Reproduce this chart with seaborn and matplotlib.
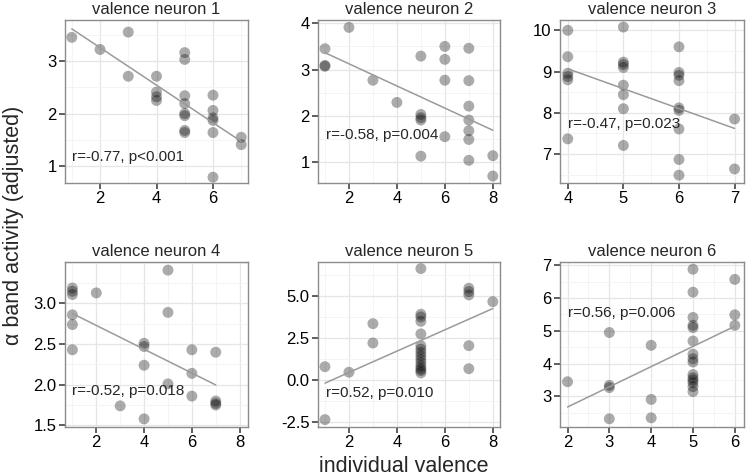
import matplotlib
matplotlib.use("Agg")
import matplotlib.pyplot as plt
from matplotlib.ticker import FixedLocator, AutoMinorLocator
import seaborn as sns
import pandas as pd

# --- DATA ---
neuron1_x = [1, 2, 3, 3, 4, 4, 4, 4, 5, 5, 5, 5, 5, 5, 5, 5, 6, 6, 6, 6, 6, 6, 7, 7]
neuron1_y = [3.45, 3.22, 3.55, 2.71, 2.71, 2.41, 2.32, 2.25, 3.16, 3.03, 2.34, 2.19,
             2.0, 1.96, 1.68, 1.64, 2.35, 2.06, 1.92, 1.87, 1.64, 0.79, 1.55, 1.41]

neuron2_x = [1, 1, 1, 2, 3, 4, 5, 5, 5, 5, 5, 6, 6, 6, 6, 7, 7, 7, 7, 7, 7, 7, 8, 8]
neuron2_y = [3.45, 3.09, 3.07, 3.91, 2.77, 2.29, 3.29, 2.03, 1.96, 1.91, 1.13, 3.50,
             3.22, 2.77, 1.55, 3.46, 2.76, 2.21, 1.91, 1.68, 1.49, 1.04, 1.14, 0.70]

neuron3_x = [4, 4, 4, 4, 4, 4, 5, 5, 5, 5, 5, 5, 5, 5, 6, 6, 6, 6, 6, 6, 6, 6, 6, 7, 7]
neuron3_y = [10.0, 9.36, 8.96, 8.88, 8.80, 7.37, 10.08, 9.23, 9.17, 9.10, 8.67, 8.44,
             8.10, 7.21, 9.60, 8.98, 8.91, 8.78, 8.12, 8.06, 7.61, 6.87, 6.49, 7.85, 6.64]

neuron4_x = [1, 1, 1, 1, 1, 1, 2, 3, 4, 4, 4, 4, 5, 5, 5, 6, 6, 6, 7, 7, 7, 7]
neuron4_y = [3.19, 3.15, 3.11, 2.86, 2.74, 2.43, 3.13, 1.74, 2.51, 2.47, 2.24, 1.58,
             3.41, 2.89, 2.01, 2.43, 2.14, 1.86, 2.40, 1.80, 1.77, 1.75]

neuron5_x = [1, 1, 2, 3, 3, 5, 5, 5, 5, 5, 5, 5, 5, 5, 5, 5, 5, 5, 5, 5,
             7, 7, 7, 7, 7, 8]
neuron5_y = [0.79, -2.36, 0.46, 3.35, 2.20, 6.63, 3.91, 3.75, 3.49, 2.74, 2.04, 1.83,
             1.63, 1.43, 1.23, 1.03, 0.83, 0.67, 0.56, 0.42, 5.46, 5.26, 5.06, 2.04,
             0.67, 4.66]

neuron6_x = [2, 3, 3, 3, 3, 4, 4, 4, 5, 5, 5, 5, 5, 5, 5, 5, 5, 5, 5, 5, 5, 5, 5,
             6, 6, 6]
neuron6_y = [3.45, 4.95, 3.34, 3.27, 2.32, 4.56, 2.91, 2.35, 6.88, 6.18, 5.41, 5.17,
             5.10, 4.69, 4.29, 4.15, 4.05, 3.67, 3.57, 3.50, 3.42, 3.30, 3.15,
             6.57, 5.49, 5.17]

stat_labels = ["r=-0.77, p<0.001", "r=-0.58, p=0.004", "r=-0.47, p=0.023",
               "r=-0.52, p=0.018", "r=0.52, p=0.010", "r=0.56, p=0.006"]

# --- LAYOUT / STYLE ---
sns.set_theme(style="white")
plt.rcParams['font.family'] = ['Liberation Sans', 'DejaVu Sans']

panels = [
    # x, y, x-limits, y-limits, x-ticks, y-ticks, y tick format, label pos
    (neuron1_x, neuron1_y, (0.76, 7.24), (0.68, 3.78), [2, 4, 6], [1, 2, 3], "{:.0f}", (1.0, 1.17)),
    (neuron2_x, neuron2_y, (0.71, 8.3), (0.55, 4.07), [2, 4, 6, 8], [1, 2, 3, 4], "{:.0f}", (1.03, 1.58)),
    (neuron3_x, neuron3_y, (3.86, 7.17), (6.30, 10.25), [4, 5, 6, 7], [7, 8, 9, 10], "{:.0f}", (4.0, 7.72)),
    (neuron4_x, neuron4_y, (0.69, 8.35), (1.48, 3.51), [2, 4, 6, 8], [1.5, 2.0, 2.5, 3.0], "{:.1f}", (1.0, 1.92)),
    (neuron5_x, neuron5_y, (0.71, 8.3), (-2.8, 7.02), [2, 4, 6, 8], [-2.5, 0.0, 2.5, 5.0], "{:.1f}", (1.03, -0.75)),
    (neuron6_x, neuron6_y, (1.82, 6.22), (2.07, 7.1), [2, 3, 4, 5, 6], [3, 4, 5, 6, 7], "{:.0f}", (2.0, 5.56)),
]

W, H = 747, 476
col_left = [65, 318, 560]
col_width = [183, 182, 184]
row_top = [20, 262]
row_height = [163, 165]

fig = plt.figure(figsize=(W / 100, H / 100), dpi=100)

for i, (xs, ys, xlim, ylim, xt, yt, yfmt, lab) in enumerate(panels):
    r, c = divmod(i, 3)
    ax = fig.add_axes([col_left[c] / W, (H - row_top[r] - row_height[r]) / H,
                       col_width[c] / W, row_height[r] / H])
    df = pd.DataFrame({'valence': xs, 'alpha': ys})

    ax.set_axisbelow(True)
    sns.scatterplot(data=df, x='valence', y='alpha', ax=ax, color='black',
                    alpha=0.33, s=62, edgecolor='none', linewidth=0, zorder=2)
    sns.regplot(data=df, x='valence', y='alpha', ax=ax, scatter=False, ci=None,
                color='#9a9a9a', line_kws={'linewidth': 1.1, 'zorder': 3})

    ax.set_xlim(*xlim)
    ax.set_ylim(*ylim)
    ax.xaxis.set_major_locator(FixedLocator(xt))
    ax.yaxis.set_major_locator(FixedLocator(yt))
    ax.set_yticklabels([yfmt.format(v) for v in yt])
    ax.xaxis.set_minor_locator(AutoMinorLocator(2))
    ax.yaxis.set_minor_locator(AutoMinorLocator(2))

    ax.grid(which='major', color='#e6e6e6', linewidth=0.9)
    ax.grid(which='minor', color='#f3f3f3', linewidth=0.6)
    for sp in ax.spines.values():
        sp.set_color('#8c8c8c')
        sp.set_linewidth(1.0)
    ax.tick_params(which='major', direction='out', length=4, width=1.1,
                   color='#333333', labelsize=12, labelcolor='black', pad=2,
                   bottom=True, left=True)
    ax.tick_params(which='minor', length=0)

    ax.set_title(f"valence neuron {i + 1}", fontsize=12, pad=4)
    ax.set_xlabel('')
    ax.set_ylabel('')
    ax.text(lab[0], lab[1], stat_labels[i], fontsize=11, ha='left', va='center',
            zorder=4)

fig.text(404 / W, 1 - 467 / H, "individual valence", fontsize=15.5, ha='center', va='center')
fig.text(14 / W, 1 - 225 / H, "α band activity (adjusted)", fontsize=15.5,
         ha='center', va='center', rotation=90)

fig.savefig("out.png", dpi=100)
